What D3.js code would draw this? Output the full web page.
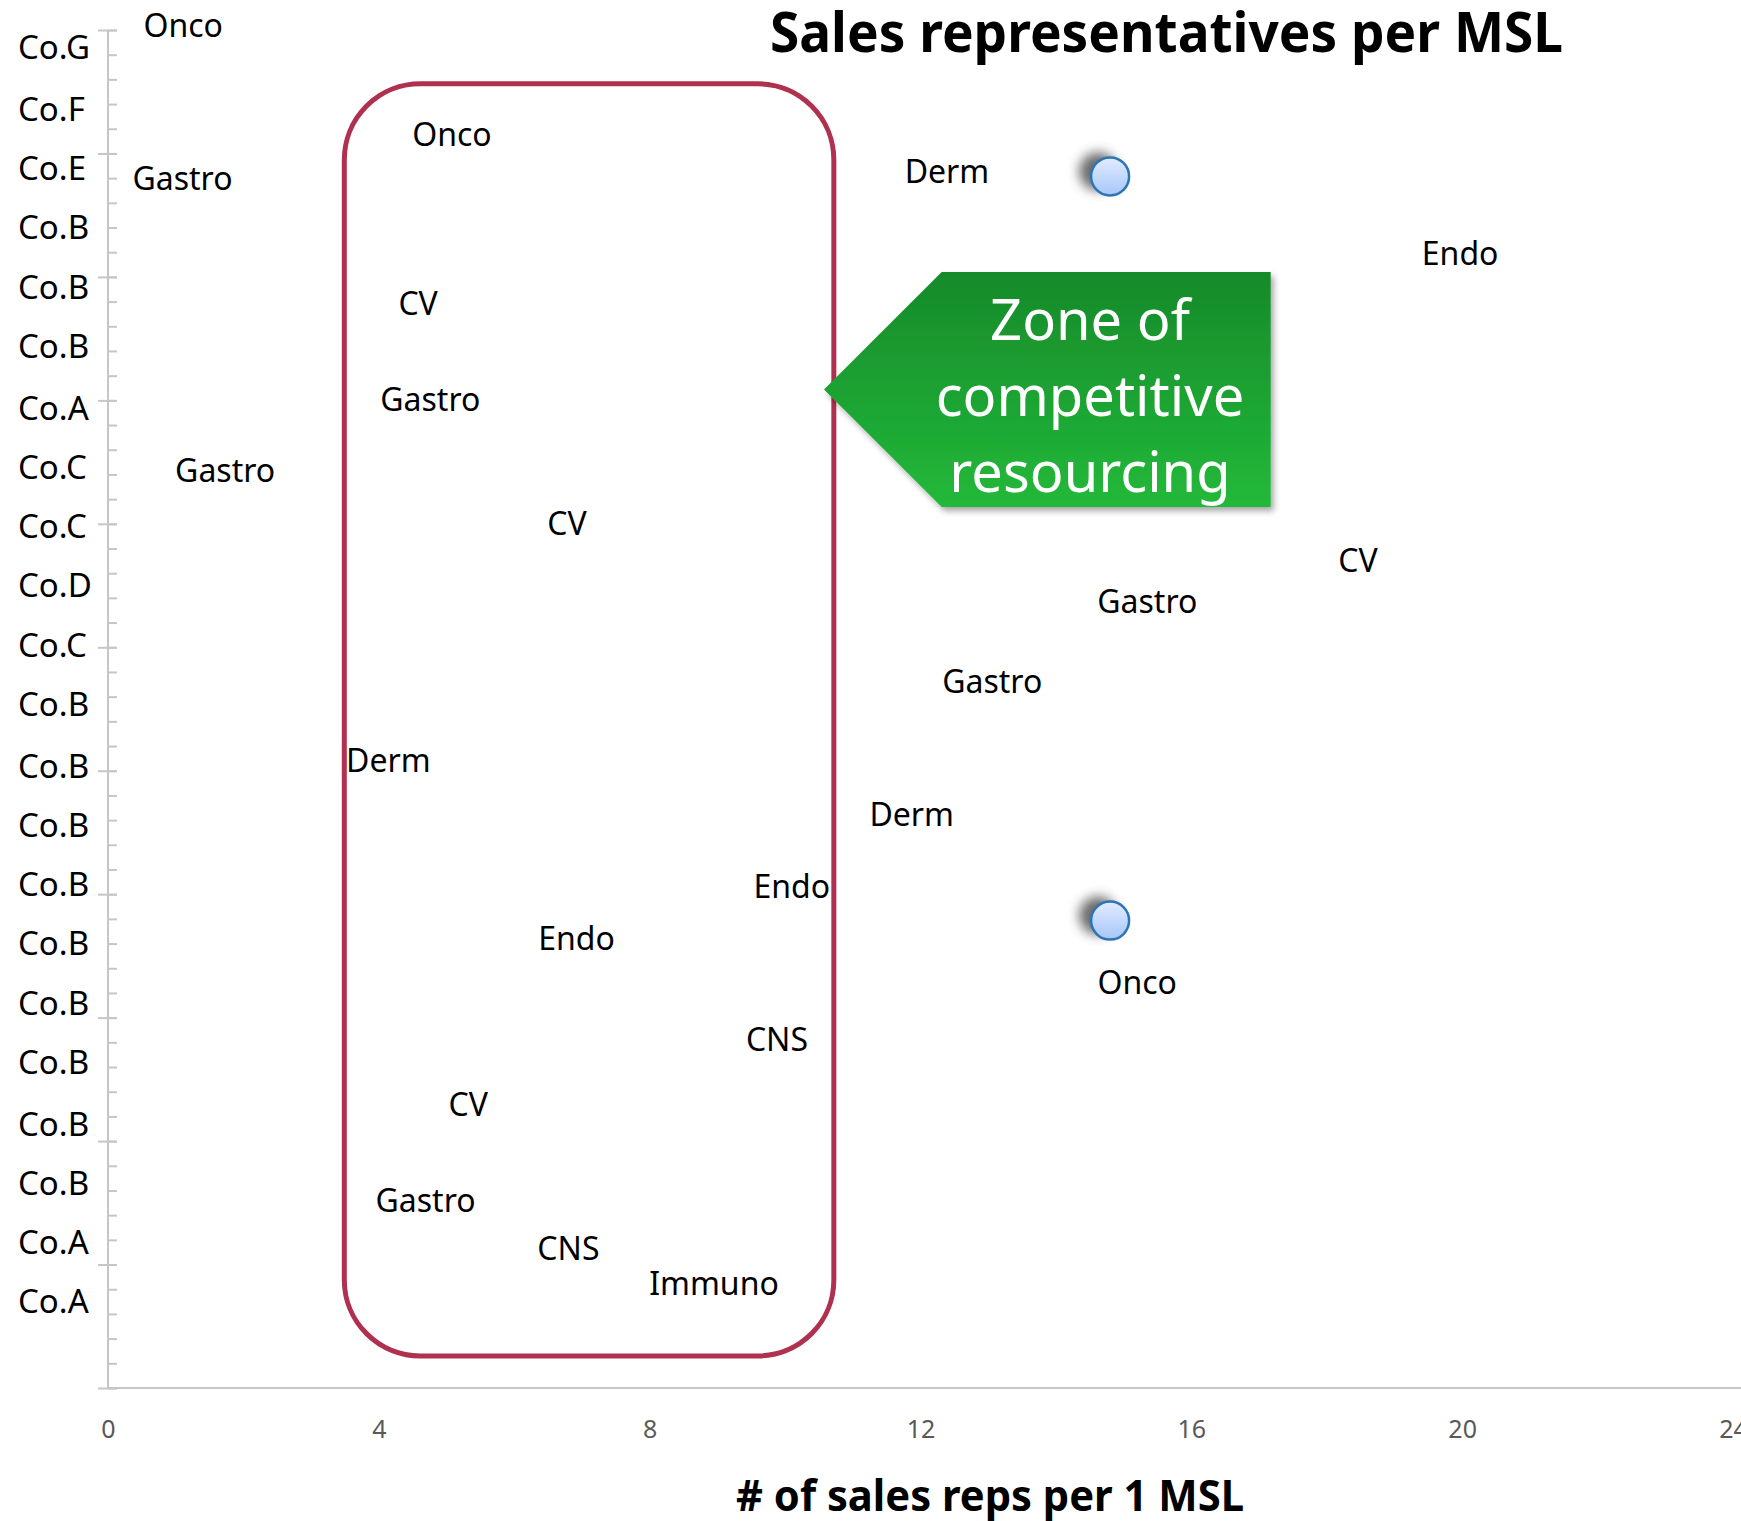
<!DOCTYPE html>
<html>
<head>
<meta charset="utf-8">
<script src="https://cdn.jsdelivr.net/npm/d3@7"></script>
<style>
  html, body { margin: 0; padding: 0; background: #fff; }
  svg { display: block; font-family: "Noto Sans", "Open Sans", sans-serif; }
</style>
</head>
<body>
<svg id="chart" width="1741" height="1521"></svg>
<script>
// ---- data ----
const companyLabels = ["Co.G","Co.F","Co.E","Co.B","Co.B","Co.B","Co.A","Co.C","Co.C","Co.D","Co.C",
                       "Co.B","Co.B","Co.B","Co.B","Co.B","Co.B","Co.B","Co.B","Co.B","Co.A","Co.A"];
const companyPos = [54.3,51.8,49.4,47.0,44.6,42.2,39.7,37.3,34.9,32.5,30.1,
                    27.7,25.2,22.8,20.4,18.0,15.6,13.2,10.7,8.3,5.9,3.5];

const areaLabels = ["Onco","Gastro","Onco","Derm","Endo","CV","Gastro","Gastro","CV","CV","Gastro",
                    "Gastro","Derm","Derm","Endo","Endo","Onco","CNS","CV","Gastro","CNS","Immuno"];
const repsPerMSL = [1.11,1.10,5.08,12.39,19.97,4.58,4.76,1.73,6.78,18.46,15.35,
                    13.06,4.14,11.87,10.10,6.92,15.20,9.88,5.32,4.69,6.80,8.95];
const yValues    = [55.18,48.98,50.78,49.25,45.96,43.94,40.03,37.15,35.03,33.51,31.84,
                    28.61,25.41,23.21,20.33,18.22,16.42,14.12,11.47,7.61,5.67,4.23];

const highlightX = [14.8, 14.8];
const highlightY = [49.07, 18.93];

const xTicks = [0,4,8,12,16,20,24];
const yMajorTicks = [0,5,10,15,20,25,30,35,40,45,50,55];
const yMinorTicks = d3.range(0, 56, 1);

const zone = {x0: 3.49, x1: 10.72, y0: 1.30, y1: 52.82};
const calloutLines = ["Zone of","competitive","resourcing"];

// ---- scales ----
const svg = d3.select("#chart");
const x = d3.scaleLinear().domain([0,24]).range([108,1733]);
const y = d3.scaleLinear().domain([0,55]).range([1388,30]);

const defs = svg.append("defs");
const gg = defs.append("linearGradient").attr("id","greenGrad").attr("x1",0).attr("y1",0).attr("x2",0).attr("y2",1);
gg.append("stop").attr("offset","0%").attr("stop-color","#178a2a");
gg.append("stop").attr("offset","100%").attr("stop-color","#22b93a");
const bg = defs.append("linearGradient").attr("id","blueGrad").attr("x1",0).attr("y1",0).attr("x2",0).attr("y2",1);
bg.append("stop").attr("offset","0%").attr("stop-color","#e2ecff");
bg.append("stop").attr("offset","100%").attr("stop-color","#a6c6fa");
const sh = defs.append("filter").attr("id","calloutShadow").attr("x","-10%").attr("y","-10%").attr("width","130%").attr("height","130%");
sh.append("feDropShadow").attr("dx",3).attr("dy",4).attr("stdDeviation",3).attr("flood-color","#000").attr("flood-opacity",0.35);
const blur = defs.append("filter").attr("id","dotBlur").attr("x","-100%").attr("y","-100%").attr("width","300%").attr("height","300%");
blur.append("feGaussianBlur").attr("stdDeviation",6);

// ---- axes ----
const axisColor = "#c6c6c6";
const gMinor = svg.append("g").attr("transform",`translate(${x(0)},0)`)
  .call(d3.axisRight(y).tickValues(yMinorTicks).tickSize(9).tickFormat(""));
const gMajor = svg.append("g").attr("transform",`translate(${x(0)},0)`)
  .call(d3.axisLeft(y).tickValues(yMajorTicks).tickSize(10).tickFormat("").tickSizeOuter(0));
[gMinor,gMajor].forEach(g => {
  g.selectAll("line").attr("stroke",axisColor).attr("stroke-width",2);
  g.select(".domain").remove();
});
gMajor.selectAll(".tick line").attr("x2",-10).attr("x1",9);
svg.append("line").attr("x1",x(0)).attr("x2",x(0)).attr("y1",y(55)).attr("y2",y(0))
  .attr("stroke",axisColor).attr("stroke-width",2);

const gx = svg.append("g").attr("transform",`translate(0,${y(0)})`)
  .call(d3.axisBottom(x).tickValues(xTicks).tickSize(0).tickPadding(32).tickSizeOuter(0));
gx.select(".domain").remove();
gx.selectAll("text").attr("fill","#595959").attr("font-size",25).attr("font-family","'Noto Sans', sans-serif");
svg.append("line").attr("x1",x(0)).attr("x2",1741).attr("y1",y(0)).attr("y2",y(0))
  .attr("stroke",axisColor).attr("stroke-width",2);

// company labels
svg.append("g").selectAll("text").data(companyLabels).join("text")
  .attr("x",18).attr("y",(d,i)=>y(companyPos[i])).attr("dy","0.36em")
  .attr("font-size",33).attr("fill","#000").text(d=>d);

// ---- zone rectangle ----
svg.append("rect")
  .attr("x",x(zone.x0)).attr("y",y(zone.y1))
  .attr("width",x(zone.x1)-x(zone.x0)).attr("height",y(zone.y0)-y(zone.y1))
  .attr("rx",76).attr("ry",76)
  .attr("fill","none").attr("stroke","#b0304f").attr("stroke-width",5);

// ---- data labels ----
svg.append("g").selectAll("text").data(areaLabels).join("text")
  .attr("x",(d,i)=>x(repsPerMSL[i])).attr("y",(d,i)=>y(yValues[i])).attr("dy","0.36em")
  .attr("text-anchor","middle").attr("font-size",32).attr("fill","#000").text(d=>d);

// ---- highlighted dots ----
const dots = svg.append("g").selectAll("g").data(highlightX).join("g");
dots.append("circle").attr("cx",(d,i)=>x(d)-12).attr("cy",(d,i)=>y(highlightY[i])-5).attr("r",19)
  .attr("fill","#444").attr("opacity",0.8).attr("filter","url(#dotBlur)");
dots.append("circle").attr("cx",(d,i)=>x(d)).attr("cy",(d,i)=>y(highlightY[i])).attr("r",19)
  .attr("fill","url(#blueGrad)").attr("stroke","#2e75b6").attr("stroke-width",2.5);

// ---- callout ----
const cx0 = 824, cxL = 941.7, cxR = 1270.7, cyT = 272, cyB = 507;
svg.append("polygon")
  .attr("points",[[cx0,(cyT+cyB)/2],[cxL,cyT],[cxR,cyT],[cxR,cyB],[cxL,cyB]].map(p=>p.join(",")).join(" "))
  .attr("fill","url(#greenGrad)").attr("filter","url(#calloutShadow)");
svg.append("g").selectAll("text").data(calloutLines).join("text")
  .attr("x",1090).attr("y",(d,i)=>[340,416,492][i])
  .attr("text-anchor","middle").attr("font-size",56).attr("fill","#fff").text(d=>d);

// ---- titles ----
svg.append("text").attr("x",770).attr("y",52).attr("font-size",56).attr("font-weight","bold")
  .attr("textLength",793).attr("lengthAdjust","spacingAndGlyphs").attr("fill","#000")
  .text("Sales representatives per MSL");
svg.append("text").attr("x",736).attr("y",1511).attr("font-size",43).attr("font-weight","bold")
  .attr("textLength",508).attr("lengthAdjust","spacingAndGlyphs").attr("fill","#000")
  .text("# of sales reps per 1 MSL");
</script>
</body>
</html>
